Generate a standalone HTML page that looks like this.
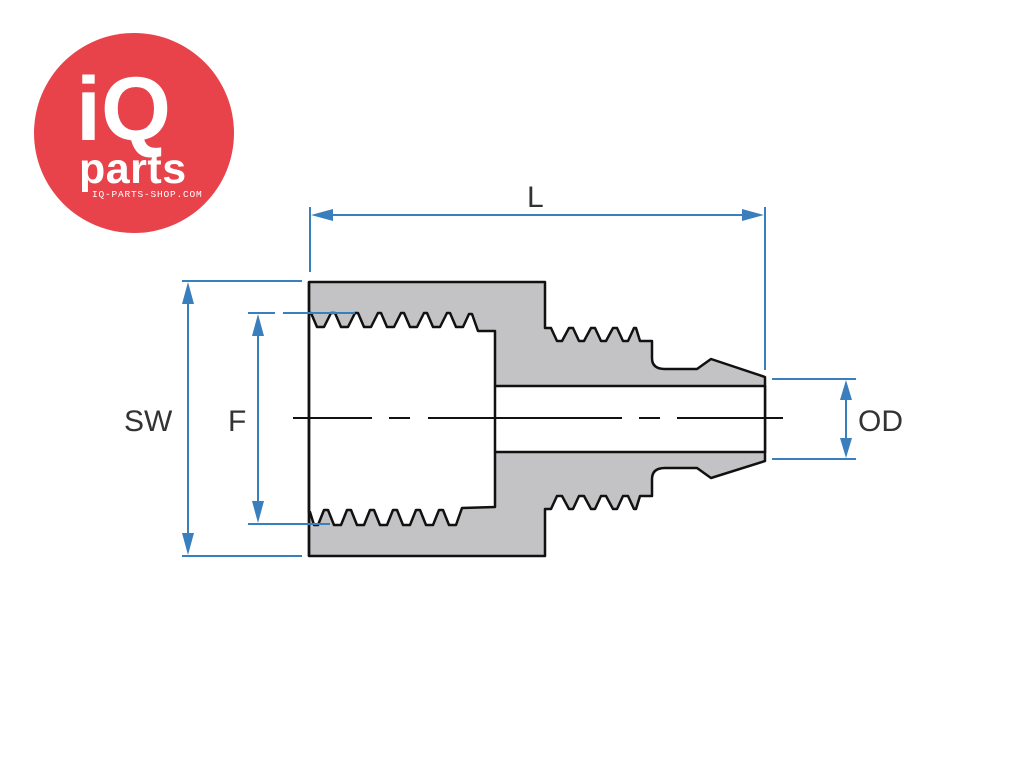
<!DOCTYPE html>
<html><head><meta charset="utf-8"><style>
html,body{margin:0;padding:0;background:#fff;width:1024px;height:768px;overflow:hidden}
svg{display:block}
</style></head><body>
<svg width="1024" height="768" viewBox="0 0 1024 768" xmlns="http://www.w3.org/2000/svg">
<circle cx="134" cy="133" r="100" fill="#e8424b"/>
<text x="76" y="140" font-family="Liberation Sans, sans-serif" font-weight="bold" font-size="90" fill="#fff">iQ</text>
<text x="79" y="183" font-family="Liberation Sans, sans-serif" font-weight="bold" font-size="43" fill="#fff" letter-spacing="0.5">parts</text>
<text x="92" y="197" font-family="Liberation Mono, monospace" font-size="9.5" fill="#fff" letter-spacing="0.8">IQ-PARTS-SHOP.COM</text>

<path d="M309,282 L545,282 L545,328 L551,328 L557,341 L562,341 L569,328 L573,328
L579,341 L584,341 L591,328 L595,328 L601,341 L606,341 L613,328 L617,328 L623,341 L628,341 L634,328 L636,328
L640,341 L652,341 L652,358 Q652,369 665,369 L697,369 L711,359 L765,377
L765,461 L711,478 L697,468 L665,468 Q652,468 652,479 L652,496 L640,496 L636,509 L634,509
L628,496 L623,496 L617,509 L613,509 L606,496 L601,496 L595,509 L591,509 L584,496 L579,496 L573,509 L569,509 L562,496 L557,496 L551,509
L545,509 L545,556 L309,556 Z" fill="#c3c3c5" stroke="#111" stroke-width="2.5" stroke-linejoin="round"/>
<path d="M309,313 L311,313 L317,327 L324,327 L331,313 L335,313 L341,327 L348,327 L355,313 L358,313
L364,327 L371,327 L378,313 L381,313 L387,327 L394,327 L401,313 L404,313 L410,327 L417,327 L424,313 L427,313
L433,327 L440,327 L447,313 L450,313 L456,327 L463,327 L469,314 L472,314 L478,331 L495,331 L495,386 L765,386
L765,452 L495,452 L495,507 L462,508 L456,525 L449,525 L443,510 L439,510 L433,525 L426,525 L420,510 L416,510
L410,525 L403,525 L397,510 L393,510 L387,525 L380,525 L374,510 L370,510 L364,525 L357,525 L351,510 L347,510
L341,525 L334,525 L328,510 L324,510 L318,525 L314,525 L310,512 L309,512 Z" fill="#fff" stroke="#111" stroke-width="2.5" stroke-linejoin="round"/>
<line x1="309" y1="282" x2="309" y2="556" stroke="#111" stroke-width="2.5"/>
<line x1="495" y1="386" x2="495" y2="452" stroke="#111" stroke-width="2.5"/>

<g stroke="#111" stroke-width="2">
<line x1="293" y1="418" x2="372" y2="418"/>
<line x1="389" y1="418" x2="410" y2="418"/>
<line x1="428" y1="418" x2="622" y2="418"/>
<line x1="639" y1="418" x2="660" y2="418"/>
<line x1="677" y1="418" x2="783" y2="418"/>
</g>

<g stroke="#3a7fbd" stroke-width="2" fill="none">
<line x1="310" y1="207" x2="310" y2="272"/>
<line x1="765" y1="207" x2="765" y2="370"/>
<line x1="330" y1="215" x2="745" y2="215"/>
<line x1="182" y1="281" x2="302" y2="281"/>
<line x1="182" y1="556" x2="302" y2="556"/>
<line x1="188" y1="300" x2="188" y2="538"/>
<line x1="248" y1="313" x2="275" y2="313"/>
<line x1="283" y1="313" x2="355" y2="313"/>
<line x1="248" y1="524" x2="330" y2="524"/>
<line x1="258" y1="332" x2="258" y2="505"/>
<line x1="772" y1="379" x2="856" y2="379"/>
<line x1="772" y1="459" x2="856" y2="459"/>
<line x1="846" y1="396" x2="846" y2="442"/>
</g>
<g fill="#3a7fbd">
<polygon points="311,215 333,209 333,221"/>
<polygon points="764,215 742,209 742,221"/>
<polygon points="188,282 182,304 194,304"/>
<polygon points="188,555 182,533 194,533"/>
<polygon points="258,314 252,336 264,336"/>
<polygon points="258,523 252,501 264,501"/>
<polygon points="846,380 840,400 852,400"/>
<polygon points="846,458 840,438 852,438"/>
</g>
<g font-family="Liberation Sans, sans-serif" font-size="30" fill="#333">
<text x="527" y="207">L</text>
<text x="124" y="431">SW</text>
<text x="228" y="431">F</text>
<text x="858" y="431">OD</text>
</g>
</svg>
</body></html>
